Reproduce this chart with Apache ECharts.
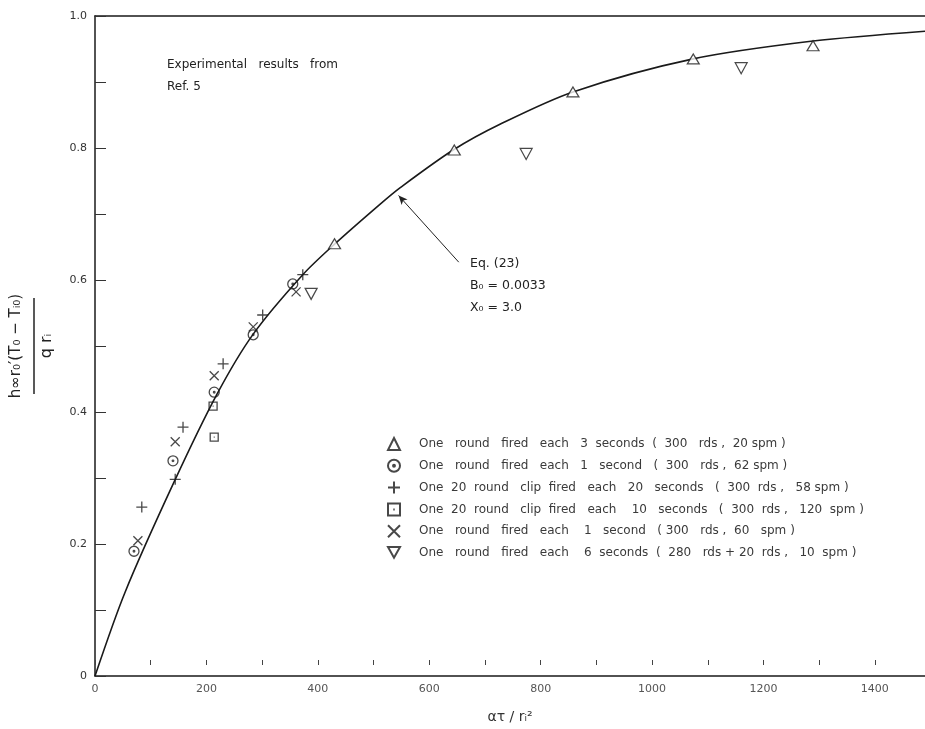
<!DOCTYPE html>
<html>
<head>
<meta charset="utf-8">
<script src="https://cdn.jsdelivr.net/npm/echarts@6/dist/echarts.min.js"></script>
<style>
  html, body { margin: 0; padding: 0; background: #fff; }
  #chart { width: 925px; height: 729px; }
</style>
</head>
<body>
<div id="chart"></div>
<script>
// theoretical curve, Eq. (23)
const curveX = [0, 54, 142, 219, 284, 373, 431, 512, 548, 643, 727, 858, 1074, 1289, 1490];
const curveY = [0, 0.127, 0.294, 0.427, 0.518, 0.608, 0.655, 0.715, 0.74, 0.797, 0.836, 0.885, 0.935, 0.962, 0.977];

// experimental points (Ref. 5)
const triUpPts = [[430, 0.655], [645, 0.797], [858, 0.885], [1074, 0.935], [1289, 0.955]];
const circlePts = [[70, 0.189], [140, 0.326], [214, 0.43], [284, 0.517], [355, 0.594]];
const plusPts = [[84, 0.256], [144, 0.298], [158, 0.377], [230, 0.473], [301, 0.547], [373, 0.608]];
const squarePts = [[214, 0.362], [212, 0.409]];
const crossPts = [[77, 0.205], [144, 0.355], [214, 0.455], [284, 0.529], [361, 0.582]];
const triDownPts = [[388, 0.579], [774, 0.791], [1160, 0.921]];

const legendNames = [
  "One   round   fired   each   3  seconds  (  300   rds ,  20 spm )",
  "One   round   fired   each   1   second   (  300   rds ,  62 spm )",
  "One  20  round   clip  fired   each   20   seconds   (  300  rds ,   58 spm )",
  "One  20  round   clip  fired   each    10   seconds   (  300  rds ,   120  spm )",
  "One   round   fired   each    1   second   ( 300   rds ,  60   spm )",
  "One   round   fired   each    6  seconds  (  280   rds + 20  rds ,   10  spm )",
];

const xTicks = { min: 0, max: 1490, interval: 200 };

const ink = "#1a1a1a";
const font = "DejaVu Sans";

const hollow = { color: "#fff", borderColor: ink, borderWidth: 1.2 };
const strokeOnly = { color: "rgba(0,0,0,0)", borderColor: ink, borderWidth: 1.3 };

const symCircleDot = "path://M10,5 A5,5 0 1,1 0,5 A5,5 0 1,1 10,5 Z M5.8,5 A0.8,0.8 0 1,1 4.2,5 A0.8,0.8 0 1,1 5.8,5 Z";
const symPlus = "path://M0,5 L10,5 M5,0 L5,10";
const symCross = "path://M1,1 L9,9 M9,1 L1,9";
const symTriDown = "path://M0,0 L10,0 L5,9 Z";
const symSquareDot = "path://M0,0 L10,0 L10,10 L0,10 Z M4.4,5 L5.6,5";

function scatter(name, data, symbol, size, style) {
  return {
    name,
    type: "scatter",
    data,
    symbol,
    symbolSize: size,
    itemStyle: style,
    z: 4,
  };
}

const chart = echarts.init(document.getElementById("chart"), null, { renderer: "canvas" });

chart.setOption({
  backgroundColor: "#fff",
  animation: false,
  textStyle: { fontFamily: font },
  grid: { left: 95, right: 0, top: 16, bottom: 52, containLabel: false },
  legend: {
    orient: "vertical",
    left: 382,
    top: 432,
    itemWidth: 12,
    itemHeight: 12,
    itemGap: 7.8,
    textStyle: { fontFamily: font, fontSize: 12, color: "#3a3a3a", padding: [0, 0, 0, 14] },
    data: legendNames,
    selectedMode: false,
  },
  xAxis: [
    {
      type: "value",
      min: xTicks.min,
      max: xTicks.max,
      interval: xTicks.interval,
      position: "bottom",
      name: "ατ / rᵢ²",
      nameLocation: "middle",
      nameGap: 34,
      nameTextStyle: { fontFamily: font, fontSize: 14, color: "#333" },
      axisLine: { lineStyle: { color: ink, width: 1.5 } },
      axisTick: { show: false },
      axisLabel: { color: "#555", fontSize: 11, margin: 8, showMaxLabel: false, formatter: (v) => String(v) },
      splitLine: { show: false },
    },
    {
      type: "value",
      min: xTicks.min,
      max: xTicks.max,
      interval: xTicks.interval / 2,
      position: "bottom",
      offset: -11,
      axisLine: { show: false },
      axisTick: { show: true, inside: true, length: 5, lineStyle: { color: "#444", width: 1 } },
      axisLabel: { show: false },
      splitLine: { show: false },
    },
    {
      type: "value",
      min: xTicks.min,
      max: xTicks.max,
      position: "top",
      axisLine: { lineStyle: { color: ink, width: 1.5 } },
      axisTick: { show: false },
      axisLabel: { show: false },
      splitLine: { show: false },
    },
  ],
  yAxis: {
    type: "value",
    min: 0,
    max: 1,
    interval: 0.1,
    axisLine: { show: true, lineStyle: { color: ink, width: 1.5 } },
    axisTick: { show: true, inside: true, length: 11, lineStyle: { color: "#333", width: 1 } },
    axisLabel: {
      color: "#333",
      fontSize: 11,
      margin: 8,
      formatter: (v) => (Math.round(v * 10) % 2 ? "" : v === 0 ? "0" : v.toFixed(1)),
    },
    splitLine: { show: false },
  },
  series: [
    {
      name: "Eq. (23)",
      type: "line",
      data: curveX.map((x, i) => [x, curveY[i]]),
      smooth: 0.3,
      showSymbol: false,
      lineStyle: { color: ink, width: 1.6 },
      z: 3,
      markLine: {
        silent: true,
        symbol: ["none", "arrow"],
        symbolSize: [6, 9],
        label: { show: false },
        lineStyle: { color: "#222", width: 1, type: "solid" },
        data: [
          [{ coord: [653, 0.627] }, { coord: [545, 0.728] }],
        ],
      },
    },
    scatter(legendNames[0], triUpPts, "triangle", [12, 10], hollow),
    scatter(legendNames[1], circlePts, symCircleDot, 10, strokeOnly),
    scatter(legendNames[2], plusPts, symPlus, 11, strokeOnly),
    scatter(legendNames[3], squarePts, symSquareDot, 8, strokeOnly),
    scatter(legendNames[4], crossPts, symCross, 9, strokeOnly),
    scatter(legendNames[5], triDownPts, symTriDown, [12, 11], hollow),
  ],
  graphic: [
    {
      type: "text",
      left: 167,
      top: 54,
      style: {
        text: "Experimental   results   from\nRef. 5",
        font: "12px " + font,
        lineHeight: 22,
        fill: "#222",
      },
    },
    {
      type: "text",
      left: 470,
      top: 253,
      style: {
        text: "Eq. (23)\nB₀ = 0.0033\nX₀ = 3.0",
        font: "12.5px " + font,
        lineHeight: 22,
        fill: "#222",
      },
    },
    {
      type: "group",
      x: 34,
      y: 346,
      rotation: Math.PI / 2,
      children: [
        {
          type: "text",
          x: 0,
          y: -10,
          style: {
            text: "h∞r₀′(T₀ − Tᵢ₀)",
            font: "15px " + font,
            fill: "#222",
            align: "center",
            verticalAlign: "bottom",
          },
        },
        {
          type: "line",
          shape: { x1: -48, y1: 0, x2: 48, y2: 0 },
          style: { stroke: "#222", lineWidth: 1.5 },
        },
        {
          type: "text",
          x: 0,
          y: 5,
          style: {
            text: "q rᵢ",
            font: "16px " + font,
            fill: "#222",
            align: "center",
            verticalAlign: "top",
          },
        },
      ],
    },
  ],
});
</script>
</body>
</html>
